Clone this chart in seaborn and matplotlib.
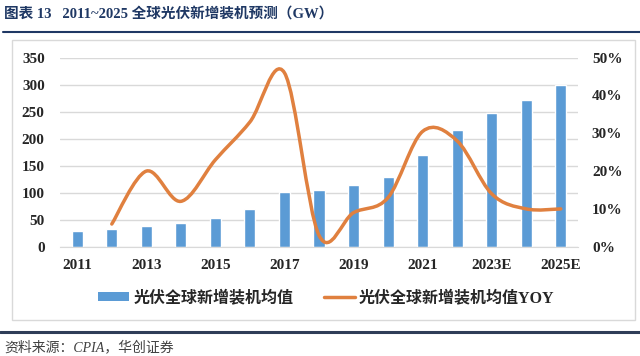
import numpy as np
import pandas as pd
import matplotlib
matplotlib.use("Agg")
import matplotlib.pyplot as plt
import seaborn as sns
from matplotlib.path import Path
from matplotlib.patches import PathPatch, Patch, Rectangle
from matplotlib.lines import Line2D
from matplotlib.ticker import PercentFormatter

# données
years = ["2011", "2012", "2013", "2014", "2015", "2016", "2017", "2018",
         "2019", "2020", "2021", "2022", "2023E", "2024E", "2025E"]
installed = [30, 32, 38, 43, 53, 70, 101, 105, 115, 130, 170, 217, 247, 272, 300]
yoy = [np.nan, 0.06, 0.20, 0.12, 0.23, 0.33, 0.46, 0.03, 0.09, 0.13,
       0.305, 0.28, 0.14, 0.10, 0.10]
tick_labels = ["2011", "2013", "2015", "2017", "2019", "2021", "2023E", "2025E"]
bar_label = "光伏全球新增装机均值"
line_label = "光伏全球新增装机均值YOY"
title = "图表 13   2011~2025 全球光伏新增装机预测（GW）"
source = "资料来源：CPIA，华创证券"

sns.set_style("white")
plt.rcParams['font.family'] = ['Liberation Serif', 'Noto Sans CJK SC', 'DejaVu Sans']

bar_color = "#5B9BD5"
line_color = "#E0803F"
grid_color = "#D9D9D9"

df = pd.DataFrame({"year": years, "installed": installed, "yoy": yoy})

fig = plt.figure(figsize=(6.4, 3.56), dpi=100)
ax = fig.add_axes([60 / 640, 1 - 246.7 / 356, 518 / 640, 189 / 356])

sns.barplot(data=df, x="year", y="installed", color=bar_color, saturation=1,
            width=0.32, ax=ax)
ax.set_xlim(-0.5, 14.5)
ax.set_ylim(0, 350)
ax.set_yticks(range(0, 351, 50))
ax.set_xticks(range(0, 15, 2))
ax.set_xticklabels(tick_labels)
ax.set_xlabel("")
ax.set_ylabel("")
ax.grid(axis="y", color=grid_color, lw=1)
ax.set_axisbelow(True)
for s in ["top", "right", "left"]:
    ax.spines[s].set_visible(False)
ax.spines["bottom"].set_color(grid_color)
ax.tick_params(axis="both", length=0, labelsize=11)
ax.tick_params(axis="y", pad=11)
ax.tick_params(axis="x", pad=9)
for lab in ax.get_xticklabels() + ax.get_yticklabels():
    lab.set_fontweight("bold")

# axe secondaire : taux de croissance, courbe lissée (Bezier type Excel)
ax2 = ax.twinx()
ax2.set_ylim(0, 0.5)
ax2.set_yticks(np.arange(0, 0.51, 0.1))
ax2.yaxis.set_major_formatter(PercentFormatter(1.0, decimals=0))
ax2.tick_params(axis="y", length=0, labelsize=11, pad=10)
for lab in ax2.get_yticklabels():
    lab.set_fontweight("bold")
for s in ax2.spines.values():
    s.set_visible(False)
ax2.grid(False)

pts = np.array([(i, v) for i, v in enumerate(yoy) if not np.isnan(v)])
n = len(pts)
verts = [tuple(pts[0])]
codes = [Path.MOVETO]
for i in range(n - 1):
    p0 = pts[max(i - 1, 0)]
    p1 = pts[i]
    p2 = pts[i + 1]
    p3 = pts[min(i + 2, n - 1)]
    c1 = p1 + (p2 - p0) / 6
    c2 = p2 - (p3 - p1) / 6
    verts += [tuple(c1), tuple(c2), tuple(p2)]
    codes += [Path.CURVE4] * 3
ax2.add_patch(PathPatch(Path(verts, codes), fill=False, edgecolor=line_color,
                        lw=2.5, capstyle="round", joinstyle="round"))

# légende
handles = [Patch(facecolor=bar_color, edgecolor="none"),
           Line2D([0], [0], color=line_color, lw=2.5)]
fig.legend(handles, [bar_label, line_label], loc="center", ncol=2,
           bbox_to_anchor=(0.51, 1 - 298 / 356), frameon=False,
           prop={"size": 11.5, "weight": "bold"},
           handlelength=1.95, handleheight=0.5, handletextpad=0.25,
           columnspacing=1.9)

# cadre, titre et source
fig.patches.append(Rectangle((12 / 640, 1 - 320 / 356), 623 / 640, 280 / 356,
                             transform=fig.transFigure, fill=False,
                             edgecolor=grid_color, lw=1))
fig.text(4 / 640, 1 - 14 / 356, title, fontsize=10.5, fontweight="bold",
         color="#1F3864", va="center", ha="left")
fig.lines.append(Line2D([3 / 640, 1], [1 - 32 / 356, 1 - 32 / 356],
                        transform=fig.transFigure, color="#1F3864", lw=1.5))
fig.lines.append(Line2D([0, 1], [1 - 332 / 356, 1 - 332 / 356],
                        transform=fig.transFigure, color="#2F3D58", lw=2.2))
fig.text(4 / 640, 1 - 347 / 356, source, fontsize=10, style="italic",
         color="#404040", va="center", ha="left")

fig.savefig("out.png", dpi=100)
